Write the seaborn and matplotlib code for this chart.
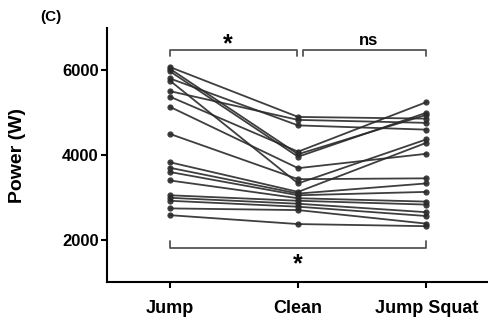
import matplotlib
matplotlib.use("Agg")
import matplotlib.pyplot as plt
import seaborn as sns
import numpy as np
import pandas as pd

# conditions and per-subject power values (W)
conditions = ["Jump", "Clean", "Jump Squat"]
jump = [6080, 6040, 5980, 5810, 5760, 5510, 5380, 5140, 4500,
        3830, 3700, 3600, 3400, 3050, 2990, 2920, 2740, 2580]
clean = [4900, 4020, 3960, 4700, 3330, 4830, 4080, 3690, 3430,
         3130, 3090, 3050, 2980, 2920, 2850, 2780, 2700, 2370]
jump_squat = [4860, 4950, 5000, 4600, 4370, 4760, 5250, 4030, 3450,
              4290, 3330, 3130, 2900, 2830, 2650, 2560, 2380, 2320]
y_ticks = [2000, 4000, 6000]

rows = []
for i in range(len(jump)):
    for pos, vals in enumerate([jump, clean, jump_squat]):
        rows.append({"subject": i, "pos": pos, "power": vals[i]})
df = pd.DataFrame(rows)

sns.set_style("ticks")
plt.rcParams["font.family"] = ["Liberation Sans", "DejaVu Sans"]
plt.rcParams["font.weight"] = "bold"
plt.rcParams["text.color"] = "black"
plt.rcParams["xtick.color"] = "black"
plt.rcParams["ytick.color"] = "black"
plt.rcParams["axes.labelcolor"] = "black"

fig = plt.figure(figsize=(4.88, 3.22), dpi=100)
ax = fig.add_axes([0.219, 0.124, 0.781, 0.789])

sns.lineplot(data=df, x="pos", y="power", units="subject", estimator=None,
             color="#2a2a2a", linewidth=1.3, marker="o", markersize=4.5,
             markeredgewidth=0, alpha=0.9, ax=ax, legend=False)

ax.set_xlim(-0.49, 2.48)
ax.set_ylim(1000, 7000)
ax.set_xticks(range(len(conditions)))
ax.set_xticklabels(conditions, fontsize=13, fontweight="bold")
ax.set_yticks(y_ticks)
ax.set_yticklabels([str(t) for t in y_ticks], fontsize=12, fontweight="bold")
ax.set_xlabel("")
ax.set_ylabel("Power (W)", fontsize=14, fontweight="bold")
ax.yaxis.set_label_coords(-0.212, 0.5)
ax.tick_params(width=1.5, length=4, color="black", pad=2)
ax.tick_params(axis="x", pad=9)
sns.despine(ax=ax)
for s in ["left", "bottom"]:
    ax.spines[s].set_linewidth(1.5)
    ax.spines[s].set_color("black")

# significance brackets
bc = "#555555"
ax.plot([0, 0, 0.995, 0.995], [6330, 6480, 6480, 6330], color=bc, lw=1.3, clip_on=False)
ax.plot([1.035, 1.035, 2, 2], [6330, 6480, 6480, 6330], color=bc, lw=1.3, clip_on=False)
ax.text(0.45, 6620, "*", ha="center", va="center", fontsize=18, fontweight="bold")
ax.text(1.55, 6700, "ns", ha="center", va="center", fontsize=12, fontweight="bold")
ax.plot([0, 0, 2, 2], [1960, 1810, 1810, 1960], color=bc, lw=1.3)
ax.text(1.0, 1430, "*", ha="center", va="center", fontsize=18, fontweight="bold")

fig.text(0.082, 0.947, "(C)", fontsize=11, fontweight="bold", ha="left", va="center")

fig.savefig("out.png", dpi=100)
